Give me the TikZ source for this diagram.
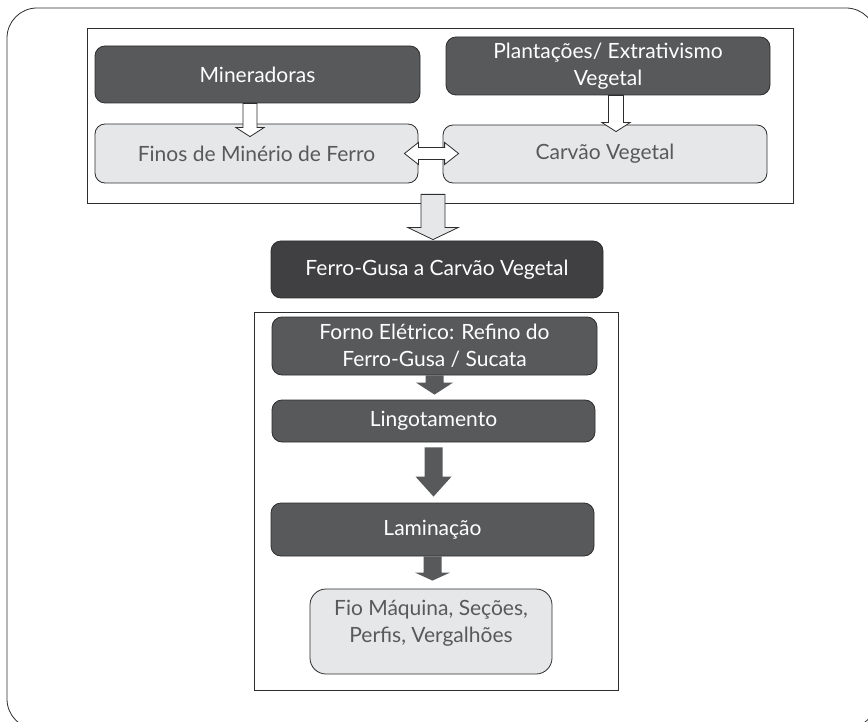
\documentclass[tikz,border=0pt]{standalone}
\usepackage{fontspec}
\setmainfont{Lato}
\usetikzlibrary{calc}
\definecolor{box_dark}{RGB}{88,89,91}
\definecolor{box_darker}{RGB}{64,64,66}
\definecolor{box_light}{RGB}{230,231,232}
\definecolor{edge_gray}{RGB}{45,45,45}
\definecolor{text_gray}{RGB}{88,89,91}

\tikzset{
  flowbox/.style={draw=edge_gray, line width=0.8pt, rounded corners=10pt, align=center,
    inner sep=0pt, font=\fontsize{21}{27}\selectfont},
  darkbox/.style={flowbox, fill=box_dark, text=white},
  lightbox/.style={flowbox, fill=box_light, text=text_gray},
  framebox/.style={draw=edge_gray, line width=0.8pt, inner sep=0pt},
  hollowarrow/.style={draw=edge_gray, line width=0.8pt, fill=white},
  greyarrow/.style={draw=edge_gray, line width=0.8pt, fill=box_light},
  solidarrow/.style={fill=box_dark}
}

% block arrow pointing down: start, tip, half shaft, half head, head length, style
\newcommand{\blockdown}[6]{%
  \path[#6] let \p1=(#1), \p2=(#2) in
    (\x1-#3,\y1) -- (\x1+#3,\y1) -- (\x1+#3,\y2+#5) -- (\x1+#4,\y2+#5)
    -- (\x1,\y2) -- (\x1-#4,\y2+#5) -- (\x1-#3,\y2+#5) -- cycle;}
% block arrow with two heads: left tip, right tip, half shaft, half head, head length, style
\newcommand{\blockboth}[6]{%
  \path[#6] let \p1=(#1), \p2=(#2) in
    (\x1,\y1) -- (\x1+#5,\y1+#4) -- (\x1+#5,\y1+#3) -- (\x2-#5,\y1+#3)
    -- (\x2-#5,\y1+#4) -- (\x2,\y1) -- (\x2-#5,\y1-#4) -- (\x2-#5,\y1-#3)
    -- (\x1+#5,\y1-#3) -- (\x1+#5,\y1-#4) -- cycle;}

\begin{document}
\begin{tikzpicture}[x=1pt, y=-1pt]
    \useasboundingbox (0,0) rectangle (868,722);
    \clip (0,0) rectangle (868,722);

    % Outer frame
    \draw[edge_gray, line width=0.8pt, rounded corners=30pt] (7,8) rectangle (876,729);

    % Raw materials
    \node[framebox, minimum width=706pt, minimum height=175pt] (supply) at (440,115.5) {};
    \node[darkbox, minimum width=325pt, minimum height=57pt] (mine) at (257.5,74.5) {Mineradoras};
    \node[darkbox, minimum width=324pt, minimum height=58pt] (plant) at (608,66) {Plantações/ Extrativismo\\Vegetal};
    \node[lightbox, minimum width=323pt, minimum height=59pt] (finos) at (256.5,153.5) {Finos de Minério de Ferro};
    \node[lightbox, minimum width=324pt, minimum height=58pt] (carvao) at (605,154) {Carvão Vegetal};

    \blockdown{[xshift=-7.5pt]mine.south}{[yshift=-13pt,xshift=-6.5pt]finos.north}{7pt}{14pt}{9pt}{hollowarrow}
    \blockdown{[xshift=8pt]plant.south}{[yshift=-7pt]carvao.north}{7.5pt}{14pt}{9pt}{hollowarrow}
    \blockboth{[xshift=-14pt]finos.east}{[xshift=16pt]carvao.west}{6pt}{11pt}{14pt}{hollowarrow}

    % Pig iron
    \node[darkbox, fill=box_darker, minimum width=332pt, minimum height=57pt] (gusa) at (437,269.5) {Ferro-Gusa a Carvão Vegetal};
    \blockdown{[xshift=-7pt,yshift=9pt]supply.south}{[yshift=1pt]gusa.north}{12pt}{25pt}{12pt}{greyarrow}

    % Steel making
    \node[framebox, minimum width=364pt, minimum height=378pt] (steel) at (436,501) {};
    \node[darkbox, minimum width=325pt, minimum height=58pt] (forno) at (434.5,346) {Forno Elétrico: Refino do\\Ferro-Gusa / Sucata};
    \node[darkbox, minimum width=323pt, minimum height=42pt] (lingot) at (433.5,421) {Lingotamento};
    \node[darkbox, minimum width=323pt, minimum height=53pt] (lamin) at (432.5,529.5) {Laminação};
    \node[lightbox, rounded corners=16pt, minimum width=242pt, minimum height=85pt] (fio) at (431,631.5)
        {Fio Máquina, Seções,\\Perfis, Vergalhões\\[-6pt]\mbox{}};

    \blockdown{forno.south}{[yshift=5pt]lingot.north}{9pt}{18.5pt}{12pt}{solidarrow}
    \blockdown{[yshift=-5pt]lingot.south}{[yshift=6pt]lamin.north}{9pt}{18pt}{20pt}{solidarrow}
    \blockdown{lamin.south}{[yshift=8pt]fio.north}{9pt}{17.5pt}{8pt}{solidarrow}
\end{tikzpicture}
\end{document}
